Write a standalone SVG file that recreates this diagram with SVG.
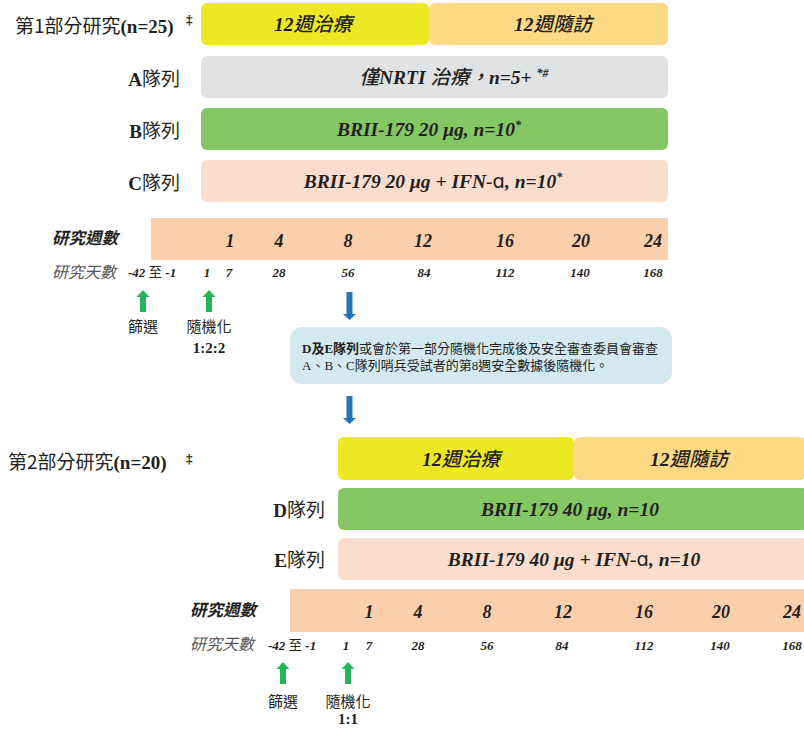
<svg xmlns="http://www.w3.org/2000/svg" width="804" height="731" viewBox="0 0 804 731">
<defs>
<style>
text{fill:#231F20}
.bi{font-family:"Liberation Serif","Noto Sans CJK TC",serif;font-weight:bold;font-style:italic}
.box{font-size:19.5px}
.cj{font-family:"Noto Sans CJK TC",sans-serif;font-weight:500}
.sans{font-family:"Noto Sans CJK TC","Noto Sans",sans-serif;font-weight:normal;font-style:normal}
.serb{font-family:"Liberation Serif","Noto Sans CJK TC",serif;font-weight:bold;font-style:normal}
.title{font-size:19px}
.lbl{font-size:19px;text-anchor:end}
.wk{font-size:18px;text-anchor:middle}
.dy{font-size:13px;text-anchor:middle}
.wkl{font-family:"Noto Sans CJK TC",sans-serif;font-style:italic;font-weight:bold;font-size:16.5px}
.dyl{font-family:"Noto Sans CJK TC",sans-serif;font-style:italic;font-weight:normal;font-size:16px;fill:#555}
.note{font-size:15px;text-anchor:middle}
.ratio{font-size:15px;text-anchor:middle}
.alpha{font-family:"DejaVu Sans",sans-serif;font-style:normal;font-weight:normal}
.yel{fill:#ECE823}.org{fill:#FDD983}.gry{fill:#E1E2E3}.grn{fill:#86C765}.pch{fill:#FADDCC}.bar{fill:#FBCFAC}.blu{fill:#D2E9F0}
.ga{fill:#27B35A}.ba{fill:#1D75BC}
.bt{font-family:"Liberation Serif","Noto Sans CJK TC",serif;font-size:13px}
</style>
<path id="up" d="M0,0 L6.5,7 L3,7 L3,22 L-3,22 L-3,7 L-6.5,7 Z"/>
<path id="down" d="M-3,0 L3,0 L3,22 L6.5,22 L0,28 L-6.5,22 L-3,22 Z"/>
</defs>

<g id="part1">
<g id="part1-title"><text class="title" x="15" y="33"><tspan class="sans">第1部分研究</tspan><tspan class="serb">(n=25)</tspan></text><text class="serb" x="186" y="24" font-size="13">‡</text></g>
<g id="p1-treat"><rect class="yel" x="201" y="3" width="228" height="42" rx="6"/><text class="bi box" x="313" y="31" text-anchor="middle">12<tspan class="cj">週治療</tspan></text></g>
<g id="p1-follow"><rect class="org" x="429" y="3" width="239" height="42" rx="6"/><text class="bi box" x="553" y="31" text-anchor="middle">12<tspan class="cj">週隨訪</tspan></text></g>
<g id="cohortA"><text class="lbl" x="180" y="86"><tspan class="serb">A</tspan><tspan class="sans">隊列</tspan></text><rect class="gry" x="201" y="56" width="467" height="42" rx="6"/><text class="bi box" x="454" y="84" text-anchor="middle"><tspan class="cj">僅</tspan>NRTI <tspan class="cj">治療，</tspan>n=5+ <tspan font-size="12" dy="-7">*#</tspan></text></g>
<g id="cohortB"><text class="lbl" x="180" y="138"><tspan class="serb">B</tspan><tspan class="sans">隊列</tspan></text><rect class="grn" x="201" y="108" width="467" height="42" rx="6"/><text class="bi box" x="429" y="136" text-anchor="middle">BRII-179 20 μg, n=10<tspan font-size="12" dy="-7">*</tspan></text></g>
<g id="cohortC"><text class="lbl" x="180" y="190"><tspan class="serb">C</tspan><tspan class="sans">隊列</tspan></text><rect class="pch" x="201" y="160" width="467" height="42" rx="6"/><text class="bi box" x="433" y="188" text-anchor="middle">BRII-179 20 μg + IFN-<tspan class="alpha">ɑ</tspan>, n=10<tspan font-size="12" dy="-7">*</tspan></text></g>
<g id="p1-timeline">
<rect class="bar" x="151" y="218" width="517" height="42"/>
<text class="wkl" x="52" y="244">研究週數</text>
<text class="bi wk" y="247"><tspan x="230">1</tspan><tspan x="279">4</tspan><tspan x="348">8</tspan><tspan x="423">12</tspan><tspan x="505">16</tspan><tspan x="581">20</tspan><tspan x="653">24</tspan></text>
<text class="dyl" x="52" y="278">研究天數</text>
<text class="bi" x="128" y="277" font-size="13">-42 <tspan class="sans" font-size="13.5">至</tspan> -1</text>
<text class="bi dy" y="277"><tspan x="207">1</tspan><tspan x="229">7</tspan><tspan x="279">28</tspan><tspan x="348">56</tspan><tspan x="424">84</tspan><tspan x="505">112</tspan><tspan x="580">140</tspan><tspan x="653">168</tspan></text>
</g>
<g id="p1-screen"><text class="sans note" x="143" y="332">篩選</text></g>
<g id="p1-random"><text class="sans note" x="209" y="332">隨機化</text><text class="serb ratio" x="209" y="353">1:2:2</text></g>
</g>

<g id="note-box"><rect class="blu" x="290" y="327" width="382" height="57" rx="12"/>
<text class="bt" x="302" y="353"><tspan font-weight="bold">D及E隊列</tspan>或會於第一部分隨機化完成後及安全審查委員會審查</text>
<text class="bt" x="302" y="370">A、B、C隊列哨兵受試者的第8週安全數據後隨機化。</text></g>

<g id="part2">
<g id="part2-title"><text class="title" x="8" y="469"><tspan class="sans">第2部分研究</tspan><tspan class="serb">(n=20)</tspan></text><text class="serb" x="186" y="463" font-size="13">‡</text></g>
<g id="p2-treat"><rect class="yel" x="338" y="437" width="236" height="43" rx="6"/><text class="bi box" x="461" y="466" text-anchor="middle">12<tspan class="cj">週治療</tspan></text></g>
<g id="p2-follow"><rect class="org" x="574" y="437" width="232" height="43" rx="6"/><text class="bi box" x="689" y="466" text-anchor="middle">12<tspan class="cj">週隨訪</tspan></text></g>
<g id="cohortD"><text class="lbl" x="325" y="517"><tspan class="serb">D</tspan><tspan class="sans">隊列</tspan></text><rect class="grn" x="338" y="488" width="470" height="42" rx="6"/><text class="bi box" x="570" y="516" text-anchor="middle">BRII-179 40 μg, n=10</text></g>
<g id="cohortE"><text class="lbl" x="325" y="567"><tspan class="serb">E</tspan><tspan class="sans">隊列</tspan></text><rect class="pch" x="338" y="538" width="470" height="42" rx="6"/><text class="bi box" x="574" y="566" text-anchor="middle">BRII-179 40 μg + IFN-<tspan class="alpha">ɑ</tspan>, n=10</text></g>
<g id="p2-timeline">
<rect class="bar" x="290" y="589" width="514" height="43"/>
<text class="wkl" x="190" y="616">研究週數</text>
<text class="bi wk" y="618"><tspan x="369">1</tspan><tspan x="418">4</tspan><tspan x="487">8</tspan><tspan x="563">12</tspan><tspan x="644">16</tspan><tspan x="721">20</tspan><tspan x="792">24</tspan></text>
<text class="dyl" x="190" y="650">研究天數</text>
<text class="bi" x="268" y="650" font-size="13">-42 <tspan class="sans" font-size="13.5">至</tspan> -1</text>
<text class="bi dy" y="650"><tspan x="346">1</tspan><tspan x="369">7</tspan><tspan x="418">28</tspan><tspan x="487">56</tspan><tspan x="562">84</tspan><tspan x="644">112</tspan><tspan x="720">140</tspan><tspan x="792">168</tspan></text>
</g>
<g id="p2-screen"><text class="sans note" x="283" y="707">篩選</text></g>
<g id="p2-random"><text class="sans note" x="348" y="707">隨機化</text><text class="serb ratio" x="348" y="724">1:1</text></g>
</g>

<g id="connectors">
<use href="#up" class="ga" x="143" y="290"/>
<use href="#up" class="ga" x="209" y="290"/>
<use href="#down" class="ba" x="349.5" y="292"/>
<use href="#down" class="ba" x="349.5" y="396"/>
<use href="#up" class="ga" x="283" y="662"/>
<use href="#up" class="ga" x="348" y="662"/>
</g>
</svg>
